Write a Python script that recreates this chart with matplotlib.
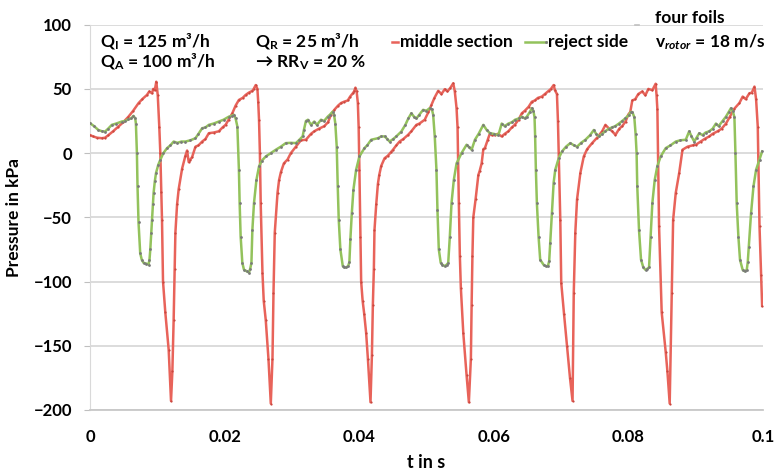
import matplotlib
matplotlib.use("Agg")
import matplotlib.pyplot as plt
from matplotlib.lines import Line2D
import numpy as np

plt.rcParams['font.family'] = ['Lato', 'DejaVu Sans']
plt.rcParams['font.weight'] = 'bold'
plt.rcParams['mathtext.fontset'] = 'custom'
plt.rcParams['mathtext.rm'] = 'Lato:bold'
plt.rcParams['mathtext.it'] = 'Lato:bold:italic'

# time in ms, pressure in kPa
t_middle_ms = [0, 0.45, 1.04, 1.75, 2.24, 2.73, 3.43, 4.22, 4.93, 5.72, 6.42, 7.21, 7.76, 8.46, 8.81,
               9.21, 9.40, 9.63, 9.85, 10.07, 10.30, 10.45, 10.60, 10.70, 10.85, 11.19, 11.69, 12.04,
               12.24, 12.43, 12.58, 12.69, 12.94, 13.18, 13.69, 14.18, 14.43, 14.67, 14.93, 15.18,
               15.67, 16.12, 16.67, 17.16, 17.66, 18.36, 19.15, 19.70, 20.15, 20.60, 21.15, 21.64,
               22.13, 22.69, 23.13, 23.58, 24.13, 24.33, 24.63, 24.88, 25.00, 25.12, 25.25, 25.37,
               25.63, 25.82, 26.12, 26.52, 26.87, 27.12, 27.27, 27.46, 27.87, 28.10, 28.36, 28.81,
               29.36, 29.85, 30.60, 31.34, 32.09, 32.84, 33.33, 34.03, 34.82, 35.37, 35.82, 36.31,
               36.87, 37.31, 37.76, 38.31, 38.66, 39.06, 39.25, 39.45, 39.63, 39.81, 39.93, 40.04,
               40.19, 40.30, 40.52, 40.75, 41.04, 41.30, 41.69, 41.90, 42.04, 42.19, 42.28, 42.54,
               42.79, 42.99, 43.28, 43.78, 44.28, 44.78, 45.03, 45.52, 46.01, 46.57, 47.27, 47.76,
               48.51, 48.96, 49.75, 50.30, 50.75, 51.19, 51.75, 52.24, 52.73, 53.13, 53.58, 53.99,
               54.22, 54.48, 54.63, 54.82, 54.97, 55.12, 55.48, 55.97, 56.31, 56.61, 56.72, 56.84,
               56.97, 57.31, 57.72, 57.91, 58.21, 58.46, 58.70, 59.10, 59.45, 59.70, 60.19, 60.60,
               61.19, 61.64, 62.19, 62.69, 63.13, 63.69, 64.18, 64.63, 65.18, 65.67, 66.12, 66.57,
               67.16, 67.61, 68.16, 68.51, 68.91, 69.10, 69.40, 69.55, 69.66, 69.90, 70.04, 70.45,
               70.90, 71.34, 71.72, 71.90, 72.13, 72.39, 72.88, 73.39, 73.88, 74.63, 75.37, 76.12,
               76.61, 77.16, 77.61, 78.10, 78.66, 79.10, 79.60, 80.00, 80.30, 80.60, 81.04, 81.49,
               82.09, 82.54, 82.99, 83.58, 84.07, 84.21, 84.33, 84.58, 84.97, 85.57, 85.82, 86.16,
               86.46, 86.67, 87.06, 87.57, 88.06, 88.81, 89.55, 90.04, 90.75, 91.34, 92.04, 92.54,
               93.28, 93.88, 94.52, 95.07, 95.67, 96.52, 97.01, 97.46, 98.01, 98.36, 98.76, 99.00,
               99.25, 99.51, 99.75, 99.90]
p_middle = [14, 13, 12, 11.6, 12, 14, 17, 20.7, 24, 28.4, 33, 38.9, 42, 45.3, 48,
            46.6, 50, 49, 55.6, 45, 20, 0, -30, -52, -100, -124, -153, -193,
            -170, -130, -90, -62, -40, -28, -12, -2, 2, -7, -5, -3,
            5, 6, 9, 11, 15.5, 16, 17, 20, 22, 26, 31, 37,
            41.4, 43, 45.3, 47, 48.5, 50, 53, 50, 40, 26, 0, -39,
            -93, -115, -130, -160, -195, -160, -109, -62, -31, -21, -15, -8,
            -5, 0, 5, 10, 10.4, 15, 17, 19, 21, 24, 30, 33.7,
            37, 39, 40, 41, 44, 46.6, 48, 51, 48, 39, 20, -13,
            -65, -100, -115, -125, -140, -160, -194, -157, -118, -90, -60, -40,
            -24, -17, -10, -4, -2, 1, 2.6, 6, 9, 11, 14.2, 17,
            22, 23, 26, 32, 37.5, 43, 48.5, 46, 49.8, 48, 51, 54.4,
            48, 35, 20, -39, -80, -105, -140, -173, -194, -160, -118, -80,
            -50, -36, -17, -14, -8, 3, 4, 10, 15.5, 14, 14, 15,
            13, 15, 17, 20, 22, 26, 31, 33, 36, 40, 41, 43,
            44, 46, 48.5, 50, 53, 49, 46, 25, 0, -52, -101, -125,
            -150, -175, -193, -109, -62, -36, -15.5, -2.6, 3, 7.8, 12, 17,
            22, 19, 17, 14.2, 19, 21, 24.6, 30, 32, 41, 42, 46,
            48, 45, 50, 49, 54, 45, 34, -57, -124, -155, -170, -195,
            -109, -52, -31, -15.5, 2.6, 5, 6, 6.5, 9, 11, 13, 15,
            17, 19, 23, 28, 34, 39, 44, 42, 46.6, 47, 51.8, 42,
            20.7, -57, -95, -119]

t_reject_ms = [0, 0.60, 1.24, 1.79, 2.24, 2.69, 3.24, 3.88, 4.73, 5.22, 5.72, 6.12, 6.46, 6.72, 6.82,
               6.97, 7.06, 7.21, 7.46, 7.69, 7.96, 8.36, 8.70, 8.84, 8.96, 9.10, 9.21, 9.33, 9.45,
               9.63, 9.81, 10.15, 10.45, 10.90, 11.45, 11.94, 12.43, 12.99, 13.58, 14.18, 14.93,
               15.67, 16.12, 16.67, 17.16, 17.66, 18.36, 19.15, 19.85, 20.64, 21.04, 21.39, 21.64,
               21.90, 22.13, 22.24, 22.39, 22.64, 22.88, 23.28, 23.63, 23.81, 23.99, 24.13, 24.37,
               24.73, 25.12, 25.52, 26.12, 26.87, 27.61, 28.36, 29.10, 29.85, 30.60, 31.04, 31.60,
               31.79, 32.09, 32.39, 32.84, 33.33, 33.73, 34.33, 34.78, 35.33, 35.67, 36.07, 36.27,
               36.46, 36.67, 36.82, 36.97, 37.21, 37.57, 37.76, 38.06, 38.36, 38.55, 38.70, 38.91,
               39.15, 39.55, 40.04, 40.79, 41.19, 41.79, 42.79, 43.28, 43.78, 44.18, 44.52, 45.07,
               45.52, 46.27, 46.87, 47.31, 47.76, 48.21, 48.51, 48.96, 49.51, 50.00, 50.49, 50.82,
               51.00, 51.24, 51.49, 51.64, 51.84, 52.13, 52.39, 52.73, 52.99, 53.24, 53.48, 53.73,
               54.07, 54.48, 55.22, 55.97, 56.27, 56.72, 57.21, 57.76, 58.46, 58.96, 59.45, 60.00,
               60.70, 61.19, 61.64, 62.19, 62.69, 63.18, 63.73, 64.18, 64.63, 64.93, 65.37, 65.67,
               65.90, 66.07, 66.16, 66.27, 66.42, 66.67, 66.91, 67.42, 67.76, 68.06, 68.25, 68.40,
               68.66, 68.91, 69.15, 69.66, 70.15, 70.75, 71.39, 71.94, 72.39, 72.99, 73.63, 74.33,
               74.88, 75.22, 75.63, 76.12, 76.57, 77.12, 77.61, 78.06, 78.61, 79.10, 79.55, 80.10,
               80.37, 80.60, 80.90, 81.09, 81.24, 81.34, 81.60, 81.90, 82.24, 82.58, 82.84, 83.09,
               83.33, 83.58, 83.93, 84.33, 84.82, 85.57, 86.27, 87.06, 87.76, 88.55, 89.06, 89.40,
               89.81, 90.15, 90.55, 91.04, 91.49, 92.04, 92.54, 93.03, 93.43, 94.03, 94.52, 94.93,
               95.27, 95.52, 95.78, 95.93, 96.12, 96.37, 96.61, 97.01, 97.31, 97.61, 97.76, 97.91,
               98.25, 98.61, 99.00, 99.51, 99.90]
p_reject = [23.3, 21, 18, 17, 16.8, 19, 22, 23, 24.6, 25, 26.4, 27, 29, 27, 23,
            0, -26, -54, -78, -83, -85.5, -86, -86.8, -83, -75, -62, -52, -40, -31,
            -22, -15.5, -9, -5.2, 0, 3.9, 6, 9, 8, 9, 9, 10,
            11.6, 15, 19.4, 20, 22, 23, 24.6, 26, 28.4, 29, 29.8, 27,
            20.7, -13, -39, -65, -85.5, -90.7, -92, -93, -90, -85.5, -60, -39,
            -21, -10.4, -6, -2.6, 0, 2.6, 5, 7.8, 8, 7.8, 10, 13,
            18, 25, 26, 22, 24.6, 22, 26, 25, 28.4, 30, 32.3, 30,
            23, 5, -26, -52, -75, -88, -89, -89, -88, -85, -67, -47,
            -28.5, -13, -2.6, 3.9, 6, 10.4, 11.6, 13, 13, 11, 9, 11,
            13, 16.8, 22, 27, 31, 28, 27, 30, 33.7, 33, 35, 34,
            30, 13, -13, -44, -75, -85.5, -87, -88, -87, -85.5, -65, -39,
            -21, -8, 0, 6.5, 5, 2.6, 10.4, 15, 22, 18, 15.5, 15,
            14, 23, 21, 23, 24, 26, 27, 28.4, 27, 28.4, 32, 35,
            33, 28, 13, -13, -39, -65, -83, -87, -88, -88, -84, -70,
            -47, -23, -13, -4, 1.3, 5, 7.8, 6, 5, 8, 10.4, 14,
            18, 15, 13, 15, 17, 19, 20, 21, 23, 25, 27, 29.8,
            32, 32, 28, 15, 0, -26, -60, -83, -89, -91, -90, -89,
            -65, -39, -21, -10, -2.6, 3.9, 6, 9, 10, 10.4, 17, 13,
            9, 12, 15.5, 14, 16, 17, 19, 23, 21, 25, 28.4, 32,
            35, 33, 28, 0, -39, -65, -83, -91, -92, -91, -85, -73,
            -47, -26, -13, -5, 1.3]

x_ticks = [0, 0.02, 0.04, 0.06, 0.08, 0.1]
x_tick_labels = ['0', '0.02', '0.04', '0.06', '0.08', '0.1']
y_ticks = [-200, -150, -100, -50, 0, 50, 100]

red = '#e8635a'
green = '#93c25c'
grid_col = '#d9d9d9'

t_middle = np.array(t_middle_ms) / 1000
t_reject = np.array(t_reject_ms) / 1000

fig = plt.figure(figsize=(7.76, 4.75), dpi=100)
ax = fig.add_axes([0.116, 0.137, 0.867, 0.811])

ax.plot(t_middle, p_middle, color=red, lw=1.8, marker='o', ms=1.6,
        mfc='#c9473f', mec='none', zorder=3)
ax.plot(t_reject, p_reject, color=green, lw=1.8, marker='o', ms=2.0,
        mfc='#7a7a7a', mec='none', zorder=4)

ax.set_xlim(0, 0.1)
ax.set_ylim(-200, 100)
ax.set_xticks(x_ticks)
ax.set_xticklabels(x_tick_labels)
ax.set_yticks(y_ticks)
ax.yaxis.grid(True, color=grid_col, lw=1.3)
ax.set_axisbelow(True)
for s in ['top', 'right']:
    ax.spines[s].set_visible(False)
ax.spines['left'].set_color(grid_col)
ax.spines['bottom'].set_color('#c8c8c8')
ax.spines['bottom'].set_linewidth(1.3)
ax.tick_params(axis='x', length=0, pad=14, labelsize=12)
ax.tick_params(axis='y', length=4, color='#bfbfbf', pad=9, labelsize=12)
for lab in ax.get_xticklabels() + ax.get_yticklabels():
    lab.set_fontweight('bold')

ax.set_xlabel('t in s', fontsize=13, fontweight='bold', labelpad=6)
ax.set_ylabel('Pressure in kPa', fontsize=12.5, fontweight='bold', labelpad=8)

# annotations
fs = 12.5
fig.text(0.129, 0.912, r'Q$_\mathrm{I}$ = 125 m³/h', fontsize=fs, fontweight='bold', va='center')
fig.text(0.129, 0.869, r'Q$_\mathrm{A}$ = 100 m³/h', fontsize=fs, fontweight='bold', va='center')
fig.text(0.329, 0.912, r'Q$_\mathrm{R}$ = 25 m³/h', fontsize=fs, fontweight='bold', va='center')
fig.text(0.329, 0.869, r'→ RR$_\mathrm{V}$ = 20 %', fontsize=fs, fontweight='bold', va='center',
         family=['Lato', 'DejaVu Sans'])
fig.text(0.844, 0.962, 'four foils', fontsize=fs, fontweight='bold', va='center')
fig.text(0.844, 0.912, r'v$_{\mathit{rotor}}$ = 18 m/s', fontsize=fs, fontweight='bold', va='center')

# legend
fig.add_artist(Line2D([0.505, 0.513], [0.912, 0.912], color=red, lw=1.8))
fig.text(0.515, 0.912, 'middle section', fontsize=fs, fontweight='bold', va='center')
fig.add_artist(Line2D([0.677, 0.704], [0.912, 0.912], color=green, lw=1.8,
                      marker='o', ms=2, mfc='#7a7a7a', mec='none', markevery=[1]))
fig.text(0.706, 0.912, 'reject side', fontsize=fs, fontweight='bold', va='center')
fig.add_artist(Line2D([0.818, 0.824], [0.948, 0.948], color='#c0c0c0', lw=1.2))

fig.savefig('out.png', dpi=100)
